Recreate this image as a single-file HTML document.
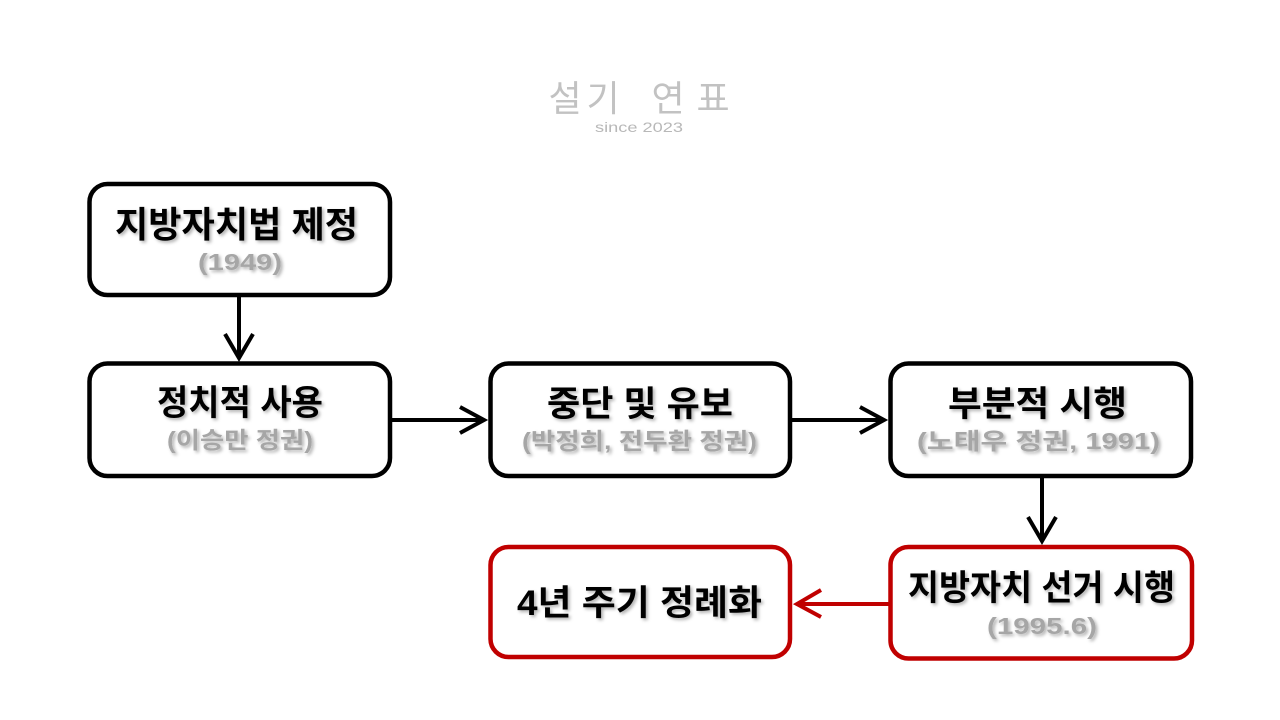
<!DOCTYPE html>
<html>
<head>
<meta charset="utf-8">
<style>
  html, body { margin: 0; padding: 0; background: #ffffff; }
  body { width: 1280px; height: 720px; overflow: hidden; }
  svg { display: block; }
  .t { font-family: "Liberation Sans", "Noto Sans CJK KR", sans-serif; font-weight: 700; fill: #000; }
  .s { font-family: "Liberation Sans", "Noto Sans CJK KR", sans-serif; font-weight: 700; fill: #a6a6a6; }
</style>
</head>
<body>
<svg width="1280" height="720" viewBox="0 0 1280 720" xmlns="http://www.w3.org/2000/svg">
  <defs>
    <filter id="sh" x="-10%" y="-30%" width="120%" height="160%">
      <feDropShadow dx="2" dy="2" stdDeviation="1.5" flood-color="#000" flood-opacity="0.3"/>
    </filter>
  </defs>

  <!-- logo -->
  <g font-family="'Liberation Sans','Noto Sans CJK KR',sans-serif" fill="#c2c2c2">
    <text x="565" y="111" font-size="36" text-anchor="middle">설</text>
    <text x="603" y="111" font-size="36" text-anchor="middle">기</text>
    <text x="668" y="111" font-size="36" text-anchor="middle">연</text>
    <text x="713" y="111" font-size="36" text-anchor="middle">표</text>
    <text x="639" y="132" font-size="14" text-anchor="middle" fill="#b8b8b8" textLength="88" lengthAdjust="spacingAndGlyphs">since 2023</text>
  </g>

  <!-- boxes -->
  <g fill="#fff" stroke-width="4.5">
    <rect x="89.5" y="184" width="300.5" height="111" rx="18" stroke="#000"/>
    <rect x="89.5" y="363.5" width="300.5" height="112.5" rx="18" stroke="#000"/>
    <rect x="490.5" y="363.5" width="299.5" height="112.5" rx="18" stroke="#000"/>
    <rect x="890.5" y="363.5" width="300.5" height="112.5" rx="18" stroke="#000"/>
    <rect x="890.5" y="547" width="301.5" height="111.5" rx="18" stroke="#c00000"/>
    <rect x="490.5" y="547" width="299.5" height="110" rx="18" stroke="#c00000"/>
  </g>

  <!-- arrows -->
  <g fill="none" stroke="#000" stroke-width="4" stroke-linejoin="miter">
    <line x1="239" y1="297" x2="239" y2="358"/>
    <polyline points="225,334 239,358 253,334"/>
    <line x1="392" y1="420" x2="484" y2="420"/>
    <polyline points="460,407 484,420 460,433"/>
    <line x1="792" y1="420" x2="884" y2="420"/>
    <polyline points="860,407 884,420 860,433"/>
    <line x1="1042" y1="478" x2="1042" y2="541"/>
    <polyline points="1028,517 1042,541 1056,517"/>
  </g>
  <g fill="none" stroke="#c00000" stroke-width="4">
    <line x1="889" y1="604" x2="797" y2="604"/>
    <polyline points="821,590 797,604 821,617"/>
  </g>

  <!-- titles -->
  <g filter="url(#sh)">
    <text class="t" x="236.5" y="237" font-size="36" text-anchor="middle" textLength="243" lengthAdjust="spacingAndGlyphs">지방자치법 제정</text>
    <text class="s" x="240" y="270" font-size="23" text-anchor="middle" textLength="84" lengthAdjust="spacingAndGlyphs">(1949)</text>

    <text class="t" x="240" y="415" font-size="35" text-anchor="middle" textLength="166" lengthAdjust="spacingAndGlyphs">정치적 사용</text>
    <text class="s" x="240" y="448" font-size="23" text-anchor="middle" textLength="146" lengthAdjust="spacingAndGlyphs">(이승만 정권)</text>

    <text class="t" x="640" y="416" font-size="35" text-anchor="middle" textLength="186" lengthAdjust="spacingAndGlyphs">중단 및 유보</text>
    <text class="s" x="639.5" y="449" font-size="23" text-anchor="middle" textLength="235" lengthAdjust="spacingAndGlyphs">(박정희, 전두환 정권)</text>

    <text class="t" x="1037.5" y="416" font-size="35" text-anchor="middle" textLength="179" lengthAdjust="spacingAndGlyphs">부분적 시행</text>
    <text class="s" x="1038.5" y="449" font-size="23" text-anchor="middle" textLength="243" lengthAdjust="spacingAndGlyphs">(노태우 정권, 1991)</text>

    <text class="t" x="1041.5" y="600" font-size="35" text-anchor="middle" textLength="267" lengthAdjust="spacingAndGlyphs">지방자치 선거 시행</text>
    <text class="s" x="1042" y="634" font-size="23" text-anchor="middle" textLength="110" lengthAdjust="spacingAndGlyphs">(1995.6)</text>

    <text class="t" x="639.5" y="615" font-size="35" text-anchor="middle" textLength="245" lengthAdjust="spacingAndGlyphs">4년 주기 정례화</text>
  </g>
</svg>
</body>
</html>
